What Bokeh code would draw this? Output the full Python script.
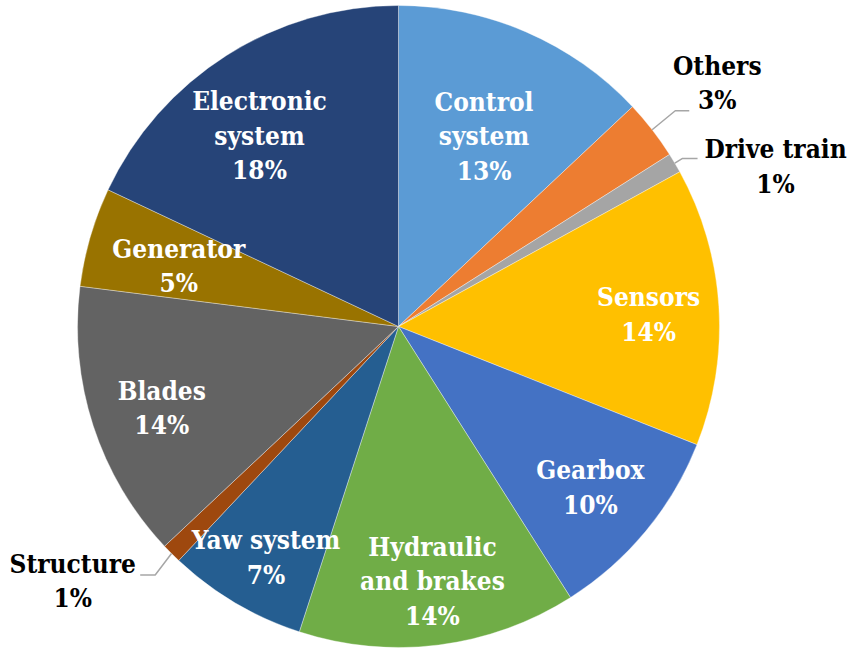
import math

from bokeh.core.properties import value
from bokeh.embed import file_html
from bokeh.models import ColumnDataSource, Range1d
from bokeh.plotting import figure
from bokeh.resources import INLINE

# Share of failures by wind-turbine subsystem (percent), clockwise from 12 o'clock
categories = ["Control system", "Others", "Drive train", "Sensors", "Gearbox",
              "Hydraulic and brakes", "Yaw system", "Structure", "Blades",
              "Generator", "Electronic system"]
shares = [13, 3, 1, 14, 10, 14, 7, 1, 14, 5, 18]
colors = ["#5B9BD5", "#ED7D31", "#A5A5A5", "#FFC000", "#4472C4", "#70AD47",
          "#255E91", "#9E480E", "#636363", "#997300", "#264478"]
name_lines = [["Control", "system"], ["Others"], ["Drive train"], ["Sensors"],
              ["Gearbox"], ["Hydraulic", "and brakes"], ["Yaw system"],
              ["Structure"], ["Blades"], ["Generator"], ["Electronic", "system"]]

# Label layout: radial distance (fraction of radius), angular nudge (deg),
# and whether the label sits outside the pie with a leader line
label_radius = [0.65, 1.25, 1.276, 0.78, 0.78, 0.80, 0.83, 1.288, 0.78, 0.71, 0.735]
label_nudge = [0.8, 0.4, 7.6, 0.9, 0.4, -0.4, -0.8, 7.0, -1.0, -0.8, -3.7]
outside = [False, True, True, False, False, False, False, True, False, False, False]
# leader end relative to label anchor (px), and elbow horizontal length
leader_end = {1: (-28, -28), 2: (-78, 8), 7: (67.5, 6)}
leader_elbow = {1: -14, 2: -15, 7: 15}

W, H = 851, 650
CX, CY, R = 398, H - 326, 321
FONT = value("DejaVu Serif Condensed")
FONT_SIZE = "26px"
LINE_STEP = 34.5

p = figure(width=W, height=H, x_range=Range1d(0, W), y_range=Range1d(0, H),
           x_axis_type=None, y_axis_type=None, output_backend="svg",
           toolbar_location=None, min_border=0)
p.grid.visible = False
p.outline_line_color = None
p.background_fill_color = "white"
p.border_fill_color = "white"

# slices
total = sum(shares)
starts, ends, mids = [], [], []
cum = 0.0
for s in shares:
    a0 = math.pi / 2 - 2 * math.pi * cum / total
    cum += s
    a1 = math.pi / 2 - 2 * math.pi * cum / total
    starts.append(a0)
    ends.append(a1)
    mids.append((a0 + a1) / 2)

src = ColumnDataSource(dict(cat=categories, start=starts, end=ends, color=colors))
p.wedge(x=CX, y=CY, radius=R, start_angle="start", end_angle="end",
        direction="clock", fill_color="color", line_color="white",
        line_width=0.6, line_alpha=0.6, source=src)

# labels
for i, (lines, s) in enumerate(zip(name_lines, shares)):
    ang = mids[i] - math.radians(label_nudge[i])
    ax = CX + label_radius[i] * R * math.cos(ang)
    ay = CY + label_radius[i] * R * math.sin(ang)
    text_lines = lines + [f"{s}%"]
    n = len(text_lines)
    xs, ys = [], []
    for k in range(n):
        xs.append(ax)
        ys.append(ay - (k - (n - 1) / 2) * LINE_STEP)
    color = "black" if outside[i] else "white"
    p.text(x=xs, y=ys, text=text_lines, text_font=FONT, text_font_style="bold",
           text_font_size=FONT_SIZE, text_color=color, text_align="center",
           text_baseline="middle")

    if outside[i]:
        ex, ey = ax + leader_end[i][0], ay + leader_end[i][1]
        bx = ex + leader_elbow[i]
        sx = CX + R * math.cos(mids[i])
        sy = CY + R * math.sin(mids[i])
        p.line(x=[sx, bx, ex], y=[sy, ey, ey], line_color="#A6A6A6", line_width=1.5)

open("out.html", "w").write(file_html(p, INLINE))
